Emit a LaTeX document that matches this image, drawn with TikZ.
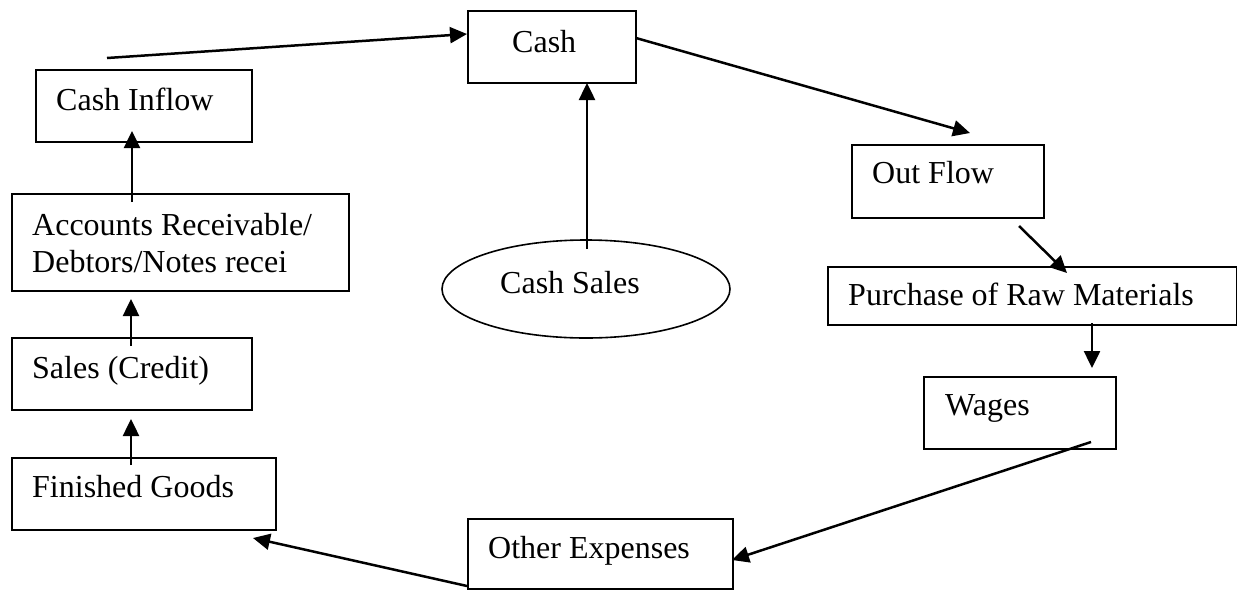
\documentclass[tikz,border=0pt]{standalone}
\usepackage{fontspec}
\setmainfont{Liberation Serif}
\usetikzlibrary{arrows.meta,shapes.geometric}
\begin{document}
\begin{tikzpicture}[x=1pt,y=-1pt,
  box/.style={draw,line width=1.9pt,rectangle,inner sep=0pt,anchor=north west},
  oval/.style={draw,ellipse,line width=1.6pt,inner sep=0pt},
  lbl/.style={anchor=base west,inner sep=0pt,font=\fontsize{32}{37}\selectfont},
  arr/.style={line width=2.5pt,-{Triangle[length=17pt,width=16pt]}}]
\useasboundingbox (0,0) rectangle (1237,590);
% boxes
\node[box,minimum width=216pt,minimum height=72pt] (ci) at (35,69) {};
\node[box,minimum width=337pt,minimum height=97pt] (ar) at (11,193) {};
\node[box,minimum width=240pt,minimum height=72pt] (sc) at (11,337) {};
\node[box,minimum width=264pt,minimum height=72pt] (fg) at (11,457) {};
\node[box,minimum width=168pt,minimum height=72pt] (cash) at (467,10) {};
\node[oval,minimum width=288pt,minimum height=98pt] (cs) at (586,289) {};
\node[box,minimum width=192pt,minimum height=73pt] (of) at (851,144) {};
\node[box,minimum width=409pt,minimum height=58pt] (pr) at (827,266) {};
\node[box,minimum width=192pt,minimum height=72pt] (wg) at (923,376) {};
\node[box,minimum width=265pt,minimum height=70pt] (oe) at (467,518) {};
% texts
\node[lbl] (tci) at (56,110) {Cash Inflow};
\node[lbl] (tar1) at (32,235) {Accounts Receivable/};
\node[lbl] (tar2) at (32,272) {Debtors/Notes recei};
\node[lbl] (tsc) at (32,378) {Sales (Credit)};
\node[lbl] (tfg) at (32,497) {Finished Goods};
\node[lbl] (tcash) at (512,52) {Cash};
\node[lbl] (tcs) at (500,293) {Cash Sales};
\node[lbl] (tof) at (872,183) {Out Flow};
\node[lbl] (tpr) at (848,305) {Purchase of Raw Materials};
\node[lbl] (twg) at (945,415) {Wages};
\node[lbl] (toe) at (488,558) {Other Expenses};
% connector end points
\coordinate (s1) at (107,58);   \coordinate (e1) at (467,34);
\coordinate (s2) at (636,38);   \coordinate (e2) at (970,133);
\coordinate (s3) at (1019,226); \coordinate (e3) at (1067,273);
\coordinate (s4) at (1092,323); \coordinate (e4) at (1092,368);
\coordinate (s5) at (1091,442); \coordinate (e5) at (732,560);
\coordinate (s6) at (467,586);  \coordinate (e6) at (253,538);
\coordinate (s7) at (131,465);  \coordinate (e7) at (131,419);
\coordinate (s8) at (131,346);  \coordinate (e8) at (131,299);
\coordinate (s9) at (132,202);  \coordinate (e9) at (132,131);
\coordinate (s10) at (587,249); \coordinate (e10) at (587,83);
% connectors
\draw[arr] (s1) -- (e1);
\draw[arr] (s2) -- (e2);
\draw[arr] (s3) -- (e3);
\draw[arr] (s4) -- (e4);
\draw[arr] (s5) -- (e5);
\draw[arr] (s6) -- (e6);
\draw[arr] (s7) -- (e7);
\draw[arr] (s8) -- (e8);
\draw[arr] (s9) -- (e9);
\draw[arr] (s10) -- (e10);
\end{tikzpicture}
\end{document}
